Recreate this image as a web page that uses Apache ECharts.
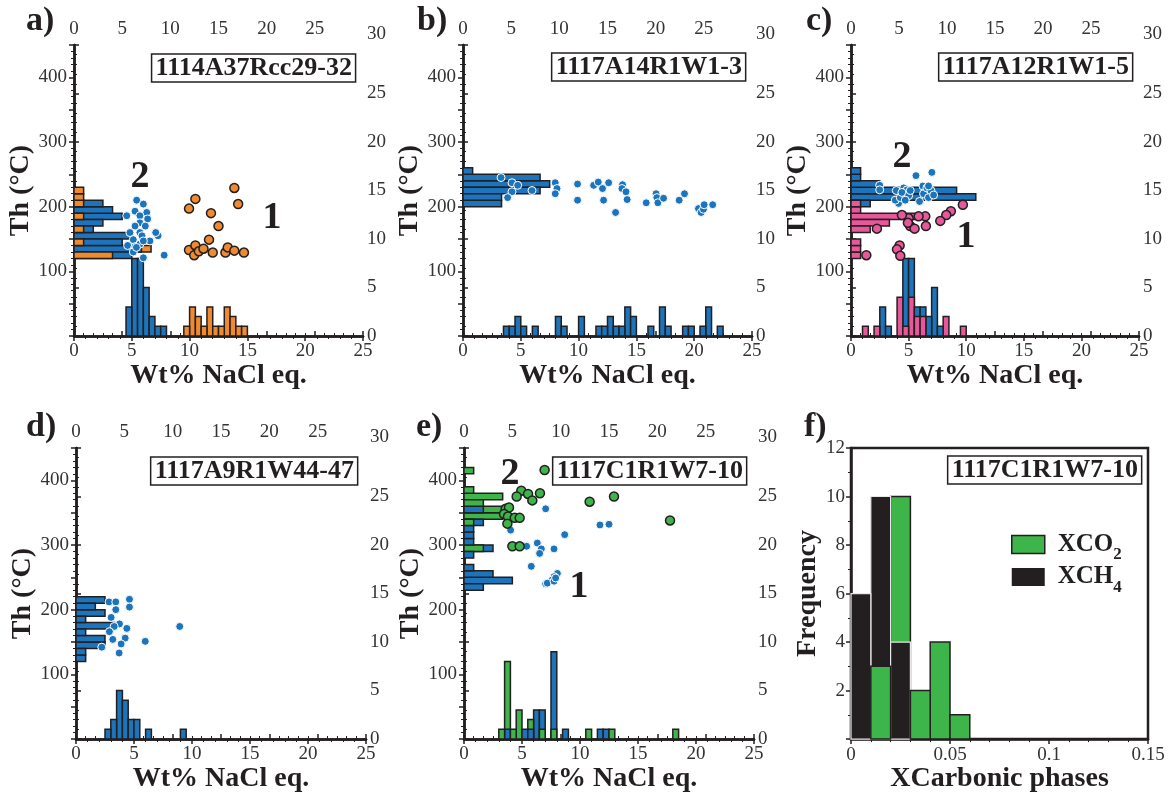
<!DOCTYPE html>
<html>
<head>
<meta charset="utf-8">
<script src="https://cdn.jsdelivr.net/npm/echarts@6/dist/echarts.min.js"></script>
<style>
  html, body { margin: 0; padding: 0; background: #fff; }
  #chart { width: 1169px; height: 794px; }
</style>
</head>
<body>
<div id="chart"></div>
<script>
// ==============================
// data (wt% NaCl eq., Th °C) and histogram counts [binStart, count]
// ==============================

// a) 1114A37Rcc29-32
const aBlue = [[5.42,210],[6.0,204],[5.28,193],[4.56,186],[6.29,191],[5.7,186],[6.37,181],[5.7,175],[5.28,170],[6.17,170],[4.84,160],[5.7,160],[5.88,155],[5.13,149],[7.27,155],[7.07,160],[6.57,147],[4.64,140],[5.28,138],[5.7,142],[5.13,130],[6.0,121],[7.8,125],[5.4,137],[6.0,147]];
const aOrange = [[9.95,197],[10.5,212],[13.87,229],[14.2,204],[11.85,190],[12.5,170],[11.68,149],[9.95,133],[10.5,140],[10.4,125],[10.8,131],[11.2,135],[12.0,129],[13.1,129],[13.3,137],[13.87,132],[14.7,129]];
const aWtBlue = [[4.5,3],[5,8],[5.5,8],[6,5],[6.5,2],[7,1],[7.5,1]];
const aWtOrange = [[9.5,1],[10,3],[10.5,2],[11,1],[11.5,3],[12,1],[12.5,1],[13,3],[13.5,2],[14,1],[14.5,1]];
const aThBlue = [[120,6],[130,7],[140,5],[150,6],[160,2],[170,3],[180,5],[190,4],[200,3]];
const aThOrange = [[120,4],[130,8],[140,1],[160,1],[180,1],[200,1],[210,1],[220,1]];

// b) 1117A14R1W1-3
const bBlue = [[3.29,245],[4.24,237],[4.73,233],[4.24,223],[3.86,214],[5.97,225],[7.98,237],[8.13,228],[7.98,220],[9.91,235],[9.91,210],[11.3,233],[11.7,238],[12.07,228],[12.6,237],[12.16,210],[13.2,191],[13.8,234],[13.75,228],[14.1,223],[14.2,211],[15.85,206],[16.7,220],[16.77,214],[16.86,206],[17.35,213],[18.7,210],[19.16,220],[20.37,197],[20.6,191],[20.8,196],[20.86,203],[21.6,203]];
const bWtBlue = [[3.5,1],[4,1],[4.5,2],[5,1],[6,1],[8,2],[8.5,1],[10,2],[11.5,1],[12,1],[12.5,2],[13,1],[13.5,1],[14,3],[14.5,2],[16,1],[17,3],[17.5,1],[19,1],[19.5,1],[20.5,1],[21,3],[22,1]];
const bThBlue = [[200,4],[210,4],[220,8],[230,9],[240,8],[250,1]];

// c) 1117A12R1W1-5
const cBlue = [[2.49,233],[2.49,226],[3.93,225],[4.13,205],[3.84,210],[4.28,214],[4.57,229],[4.86,226],[4.42,222],[5.0,217],[4.71,210],[5.64,248],[6.24,232],[5.95,208],[6.3,220],[6.59,229],[6.73,214],[6.94,225],[7.02,253],[7.17,218],[6.73,232],[5.14,225]];
const cPink = [[9.71,203],[8.67,193],[8.27,187],[7.75,178],[6.45,185],[5.87,185],[5.0,182],[4.42,187],[5.14,170],[4.94,175],[5.52,166],[6.5,170],[2.25,166],[4.22,140],[3.99,134],[4.28,124],[1.33,125]];
const cWtBlue = [[2.5,3],[3,1],[4.5,8],[5,8],[5.5,3],[6,3],[6.5,2],[7,5],[7.5,1]];
const cWtPink = [[1,1],[2,1],[4,4],[4.5,1],[5,4],[5.5,2],[6,2],[8,2],[9.5,1]];
const cThBlue = [[200,2],[210,13],[220,11],[230,3],[240,1],[250,1]];
const cThPink = [[120,1],[130,1],[140,1],[160,2],[170,4],[180,7],[190,1],[200,1]];

// d) 1117A9R1W44-47
const dBlue = [[2.85,212],[3.43,212],[4.61,216],[4.61,204],[3.43,200],[3.03,188],[3.75,178],[3.29,174],[4.38,171],[2.88,166],[4.24,156],[3.17,154],[5.97,151],[3.89,147],[2.22,142],[3.72,133],[8.94,174]];
const dWtBlue = [[2.5,1],[3,2],[3.5,5],[4,4],[4.5,2],[5,2],[6,1],[9,1]];
const dThBlue = [[120,1],[130,1],[140,3],[150,3],[160,1],[170,4],[180,1],[190,3],[200,2],[210,3]];

// e) 1117C1R1W7-10
const eGreen = [[6.95,416],[4.94,384],[4.54,375],[5.52,379],[5.89,369],[6.55,380],[3.59,356],[3.88,358],[3.45,348],[3.79,344],[4.37,342],[4.8,342],[3.74,333],[4.17,298],[4.8,298],[10.83,367],[12.93,375],[17.76,338]];
const eBlue = [[7.04,356],[4.02,323],[5.4,298],[6.32,303],[6.67,294],[6.52,287],[7.76,294],[8.68,316],[5.8,267],[11.72,331],[12.5,332],[8.05,256],[7.76,251],[7.61,246],[7.04,240],[7.18,241],[7.76,244],[7.9,249]];
const eWtBlue = [[3.5,1],[5,1],[5.5,1],[6,3],[6.5,3],[7.5,9],[8.5,1],[11.5,1],[12,1]];
const eWtGreen = [[3,1],[3.5,8],[4,1],[4.5,3],[5.5,2],[6.5,1],[7.5,1],[10.5,1],[12.5,1],[18,1]];
const eThBlue = [[230,2],[240,5],[250,3],[260,1],[280,1],[290,3],[300,1],[310,1],[320,1],[330,2],[350,2]];
const eThGreen = [[290,2],[330,1],[340,4],[350,4],[360,2],[370,4],[380,1],[410,1]];

// f) XCarbonic phases
const fCH4 = [[0,6],[0.01,10],[0.02,4]];
const fCO2 = [[0.01,3],[0.02,10],[0.03,2],[0.04,4],[0.05,1]];

const sampleNames = ['1114A37Rcc29-32', '1117A14R1W1-3', '1117A12R1W1-5', '1117A9R1W44-47', '1117C1R1W7-10', '1117C1R1W7-10'];
const panelLetters = ['a)', 'b)', 'c)', 'd)', 'e)', 'f)'];

// ==============================
// styles / layout
// ==============================
const FONT = "'Liberation Serif', 'Times New Roman', serif";
const ink = '#231f20';
const BLUE = '#1c75bc';
const ORANGE = '#f08a2c';
const PINK = '#e9579b';
const GREEN = '#3db54a';

// plot boxes: left, top, width, height
const boxes = [
  [74, 45, 289, 291], [463, 45, 289, 291], [851, 45, 288, 291],
  [76, 448, 290, 291], [464, 448, 290, 291], [851, 448, 297, 292]
];

const labelStyle = { fontFamily: FONT, fontSize: 19, color: '#333' };
const nameStyle = { fontFamily: FONT, fontSize: 28, fontWeight: 'bold', color: ink };
const lineStyle = { color: ink, width: 2.5 };

function baseAxis(extra) {
  return Object.assign({
    type: 'value',
    axisLine: { show: true, lineStyle },
    axisTick: { show: true, length: 5, lineStyle: { color: ink, width: 1.5 } },
    minorTick: { show: true, splitNumber: 5, length: 3, lineStyle: { color: ink, width: 1 } },
    splitLine: { show: false },
    minorSplitLine: { show: false }
  }, extra);
}

// vertical histogram bars: [binStart, count] on (x value, y frequency)
function vBars(width, fill, stroke, lw) {
  return function (params, api) {
    const x0 = api.value(0), n = api.value(1);
    const p0 = api.coord([x0, 0]);
    const p1 = api.coord([x0 + width, n]);
    return {
      type: 'rect',
      z2: 100 - n,   // smaller bar drawn in front
      shape: { x: p0[0], y: p1[1], width: p1[0] - p0[0], height: p0[1] - p1[1] },
      style: { fill, stroke, lineWidth: lw }
    };
  };
}

// horizontal histogram bars: [binStart, count] on (x frequency, y Th)
function hBars(width, fill) {
  return function (params, api) {
    const y0 = api.value(0), n = api.value(1);
    const p0 = api.coord([0, y0]);
    const p1 = api.coord([n, y0 + width]);
    return {
      type: 'rect',
      z2: 100 - n,
      shape: { x: p0[0], y: p1[1], width: p1[0] - p0[0], height: p0[1] - p1[1] },
      style: { fill, stroke: ink, lineWidth: 1.5 }
    };
  };
}

const grids = boxes.map(b => ({ left: b[0], top: b[1], width: b[2], height: b[3] }));
grids[5].show = true;
grids[5].borderColor = ink;
grids[5].borderWidth = 2.5;

const xAxes = [];
const yAxes = [];
for (let i = 0; i < 5; i++) {
  xAxes.push(baseAxis({
    gridIndex: i, position: 'bottom', min: 0, max: 25, interval: 5,
    name: 'Wt% NaCl eq.', nameLocation: 'middle', nameGap: 25, nameTextStyle: nameStyle,
    axisLabel: Object.assign({ margin: 6 }, labelStyle)
  }));
  xAxes.push(baseAxis({
    gridIndex: i, position: 'top', min: 0, max: 30, interval: 5,
    axisLabel: Object.assign({ margin: 6, formatter: v => (v === 30 ? '' : String(v)) }, labelStyle)
  }));
  yAxes.push(baseAxis({
    gridIndex: i, position: 'left', min: 0, max: 450, interval: 50,
    name: 'Th (°C)', nameLocation: 'middle', nameGap: 36,
    nameTextStyle: Object.assign({ padding: [0, 0, 0, 0] }, nameStyle),
    axisLabel: Object.assign({ margin: 7, formatter: v => (v % 100 === 0 && v > 0 ? String(v) : '') }, labelStyle)
  }));
  yAxes.push(baseAxis({
    gridIndex: i, position: 'right', min: 0, max: 30, interval: 5,
    axisLabel: Object.assign({
      margin: 4,
      formatter: v => (v === 30 ? '{t|30}' : String(v)),
      rich: { t: Object.assign({ padding: [0, 0, 22, 0] }, labelStyle) }
    }, labelStyle)
  }));
}
// f axes
xAxes.push(baseAxis({
  gridIndex: 5, position: 'bottom', min: 0, max: 0.15, interval: 0.05,
  name: 'XCarbonic phases', nameLocation: 'middle', nameGap: 25, nameTextStyle: nameStyle,
  axisLabel: Object.assign({ margin: 6, formatter: v => (v === 0 ? '0' : String(+v.toFixed(2))) }, labelStyle)
}));
yAxes.push(baseAxis({
  gridIndex: 5, position: 'left', min: 0, max: 12, interval: 2,
  minorTick: { show: true, splitNumber: 2, length: 3, lineStyle: { color: ink, width: 1 } },
  name: 'Frequency', nameLocation: 'middle', nameGap: 23, nameTextStyle: nameStyle,
  axisLabel: Object.assign({ margin: 6, formatter: v => (v === 0 ? '' : String(v)) }, labelStyle)
}));

// ==============================
// series
// ==============================
const series = [];
function scatter(i, data, color, outline) {
  series.push({
    type: 'scatter', xAxisIndex: 2 * i, yAxisIndex: 2 * i, data, z: 5,
    symbolSize: outline ? 9 : 8,
    itemStyle: outline
      ? { color, borderColor: ink, borderWidth: 1.5, opacity: 1 }
      : { color, borderColor: '#fff', borderWidth: 1, opacity: 1 }
  });
}
function vHist(i, data, color) {
  series.push({
    type: 'custom', xAxisIndex: 2 * i, yAxisIndex: 2 * i + 1, data, z: 2,
    encode: { x: 0, y: 1 }, renderItem: vBars(0.5, color, ink, 1.5)
  });
}
function hHist(i, data, color) {
  series.push({
    type: 'custom', xAxisIndex: 2 * i + 1, yAxisIndex: 2 * i, data, z: 2,
    encode: { x: 1, y: 0 }, renderItem: hBars(10, color)
  });
}

vHist(0, aWtBlue, BLUE); vHist(0, aWtOrange, ORANGE);
hHist(0, aThBlue, BLUE); hHist(0, aThOrange, ORANGE);
scatter(0, aBlue, BLUE, false); scatter(0, aOrange, ORANGE, true);

vHist(1, bWtBlue, BLUE); hHist(1, bThBlue, BLUE);
scatter(1, bBlue, BLUE, false);

vHist(2, cWtBlue, BLUE); vHist(2, cWtPink, PINK);
hHist(2, cThBlue, BLUE); hHist(2, cThPink, PINK);
scatter(2, cBlue, BLUE, false); scatter(2, cPink, PINK, true);

vHist(3, dWtBlue, BLUE); hHist(3, dThBlue, BLUE);
scatter(3, dBlue, BLUE, false);

vHist(4, eWtBlue, BLUE); vHist(4, eWtGreen, GREEN);
hHist(4, eThBlue, BLUE); hHist(4, eThGreen, GREEN);
scatter(4, eBlue, BLUE, false); scatter(4, eGreen, GREEN, true);

series.push({
  name: 'XCO2', type: 'custom', xAxisIndex: 10, yAxisIndex: 10, data: fCO2, z: 2,
  itemStyle: { color: GREEN }, encode: { x: 0, y: 1 },
  renderItem: vBars(0.01, GREEN, ink, 1.5)
});
series.push({
  name: 'XCH4', type: 'custom', xAxisIndex: 10, yAxisIndex: 10, data: fCH4, z: 2,
  itemStyle: { color: ink }, encode: { x: 0, y: 1 },
  renderItem: vBars(0.01, ink, '#e8e8e8', 1.2)
});

// ==============================
// titles, labels, legend
// ==============================
const letterPos = [[26, 4], [417, 4], [806, 4], [26, 410], [416, 410], [804, 410]];
const titles = panelLetters.map((t, i) => ({
  text: t, left: letterPos[i][0], top: letterPos[i][1], padding: 0,
  textStyle: { fontFamily: FONT, fontSize: 34, fontWeight: 'bold', color: ink }
}));
const boxRight = [813, 423, 36, 811, 422, 27];
const boxTop = [54, 53, 53, 457, 457, 456];
sampleNames.forEach((t, i) => titles.push({
  text: t, right: boxRight[i], top: boxTop[i], padding: [1, 4, 1, 4],
  borderColor: ink, borderWidth: 1.5, backgroundColor: '#fff',
  textStyle: { fontFamily: FONT, fontSize: 26, lineHeight: 26, fontWeight: 'bold', color: ink }
}));

const groupLabels = [['2', 140, 177], ['1', 272, 218], ['2', 902, 157], ['1', 966, 237], ['2', 510, 474], ['1', 579, 587]];

const chart = echarts.init(document.getElementById('chart'));
chart.setOption({
  animation: false,
  backgroundColor: '#fff',
  title: titles,
  grid: grids,
  xAxis: xAxes,
  yAxis: yAxes,
  legend: {
    orient: 'vertical', left: 1006, top: 527, itemGap: 1,
    itemWidth: 33, itemHeight: 18, icon: 'rect',
    data: [
      { name: 'XCO2', itemStyle: { color: GREEN, borderColor: ink, borderWidth: 1.5 } },
      { name: 'XCH4', itemStyle: { color: ink, borderWidth: 0 } }
    ],
    formatter: name => (name === 'XCO2' ? '{b|XCO}{s|2}' : '{b|XCH}{s|4}'),
    textStyle: {
      rich: {
        b: { fontFamily: FONT, fontSize: 25, fontWeight: 'bold', color: ink, lineHeight: 38, padding: [0, 0, 0, 8] },
        s: { fontFamily: FONT, fontSize: 17, fontWeight: 'bold', color: ink, lineHeight: 17, verticalAlign: 'bottom' }
      }
    },
    selectedMode: false
  },
  graphic: groupLabels.map(l => ({
    type: 'text', x: l[1], y: l[2], z: 20,
    style: { text: l[0], fontFamily: FONT, fontSize: 38, fontWeight: 'bold', fill: ink, align: 'center', verticalAlign: 'middle' }
  })),
  series
});
</script>
</body>
</html>
